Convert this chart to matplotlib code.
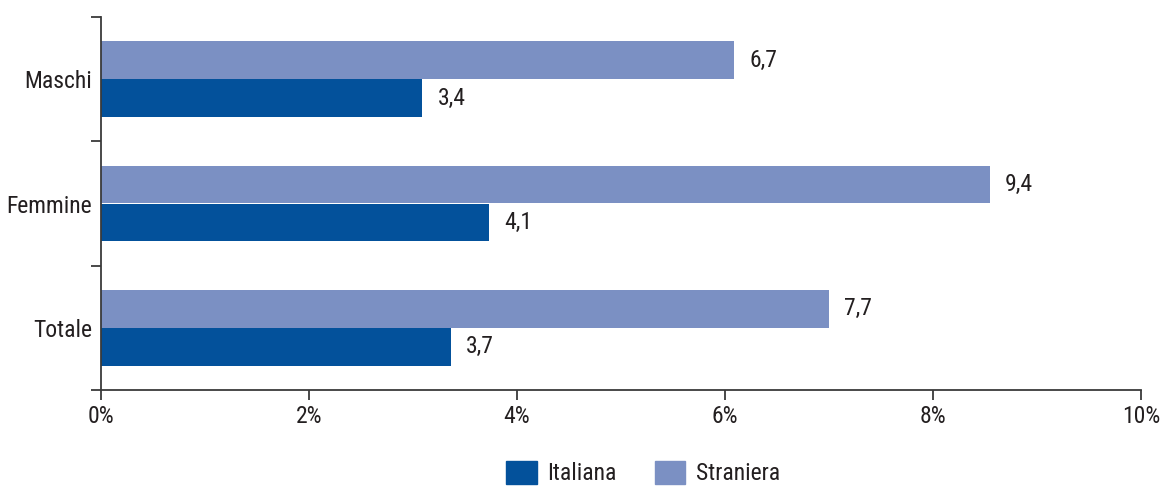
import matplotlib
matplotlib.use("Agg")
import matplotlib.pyplot as plt
from matplotlib.patches import Patch
import numpy as np

categories = ["Maschi", "Femmine", "Totale"]
italiana = [3.4, 4.1, 3.7]
straniera = [6.7, 9.4, 7.7]
series_names = ["Italiana", "Straniera"]
tick_labels = ["0%", "2%", "4%", "6%", "8%", "10%"]

col_it = "#03519B"
col_st = "#7B90C3"
txt = "#231F20"
axcol = "#3a3a3a"

plt.rcParams["font.family"] = ["Liberation Sans Narrow", "Roboto Condensed", "Liberation Sans", "DejaVu Sans"]
fs = 17

fig = plt.figure(figsize=(11.67, 4.86), dpi=100)
ax = fig.add_axes([101/1167, 1 - 390/486, 1040/1167, 373/486])

y = np.arange(len(categories))
h = 0.305
b_st = ax.barh(y - h/2, straniera, height=h, color=col_st, label=series_names[1])
b_it = ax.barh(y + h/2, italiana, height=h, color=col_it, label=series_names[0])

for bars, vals in ((b_st, straniera), (b_it, italiana)):
    for rect, v in zip(bars, vals):
        ax.annotate(f"{v:.1f}".replace(".", ","),
                    xy=(rect.get_width(), rect.get_y() + rect.get_height()/2),
                    xytext=(11, 0), textcoords="offset points",
                    ha="left", va="center", fontsize=fs, color=txt)

ax.set_xlim(0, 11)
ax.set_ylim(len(categories) - 0.5, -0.5)
ax.set_xticks(np.arange(len(tick_labels)) * 2.2)
ax.set_xticklabels(tick_labels, fontsize=fs, color=txt)
ax.set_yticks(np.arange(len(categories) + 1) - 0.5)
ax.set_yticklabels([])
ax.set_yticks(y, minor=True)
ax.set_yticklabels(categories, minor=True, fontsize=fs, color=txt)
ax.tick_params(axis="y", which="major", length=7.2, width=1.3, color=axcol)
ax.tick_params(axis="y", which="minor", length=0, pad=6.5)
ax.tick_params(axis="x", length=7.2, width=1.3, color=axcol, pad=3.5)
for s in ("top", "right"):
    ax.spines[s].set_visible(False)
for s in ("left", "bottom"):
    ax.spines[s].set_color(axcol)
    ax.spines[s].set_linewidth(1.3)

handles = [Patch(color=col_it, label=series_names[0]), Patch(color=col_st, label=series_names[1])]
leg = fig.legend(handles=handles, loc="lower center", bbox_to_anchor=(0.551, -0.018), ncol=2,
                 frameon=False, fontsize=fs, handlelength=1.3, handleheight=1.1,
                 handletextpad=0.45, columnspacing=1.6, borderaxespad=0)
for t in leg.get_texts():
    t.set_color(txt)

fig.savefig("out.png", dpi=100)
